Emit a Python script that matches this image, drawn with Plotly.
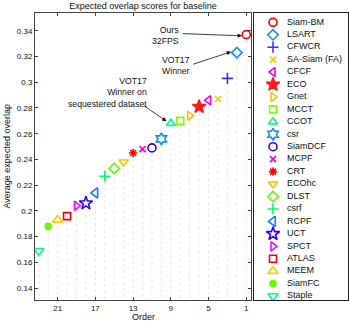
import plotly.graph_objects as go

# trackers in ranking order (order 1 = best)
trackers = ['Siam-BM', 'LSART', 'CFWCR', 'SA-Siam (FA)', 'CFCF', 'ECO', 'Gnet', 'MCCT',
            'CCOT', 'csr', 'SiamDCF', 'MCPF', 'CRT', 'ECOhc', 'DLST', 'csrf', 'RCPF',
            'UCT', 'SPCT', 'ATLAS', 'MEEM', 'SiamFC', 'Staple']
order = list(range(1, 24))
eao = [0.337, 0.323, 0.303, 0.287, 0.286, 0.281, 0.274, 0.270, 0.268, 0.256, 0.249,
       0.248, 0.245, 0.238, 0.233, 0.227, 0.214, 0.206, 0.204, 0.196, 0.193, 0.188, 0.169]

symbols = ['circle-open', 'diamond-open', 'cross-thin-open', 'x-thin-open', 'triangle-left-open',
           'star', 'triangle-right-open', 'square-open', 'triangle-up-open', 'hexagram-open',
           'circle-open', 'x-thin-open', 'asterisk-open', 'triangle-down-open', 'diamond-open',
           'cross-thin-open', 'triangle-left-open', 'star-open', 'triangle-right-open',
           'square-open', 'triangle-up-open', 'circle', 'triangle-down-open']
colors = ['#ff0000', '#1a8cff', '#4d26ff', '#ffcc00', '#ff00e6', '#ff1a1a', '#ffbf00', '#80ff00',
          '#00ff80', '#1a8cff', '#3300ff', '#ff00cc', '#ff0000', '#ffbf00', '#59ff00',
          '#00ff66', '#0f80ff', '#3300ff', '#ff00ff', '#ff0000', '#ffcc00', '#66ff00', '#00ff88']
sizes = [8, 8, 8, 6, 8, 10, 8, 7, 8, 9, 8, 6, 7, 8, 8, 8, 9, 10, 8, 7, 9, 6, 9]

x_ticks = [1, 5, 9, 13, 17, 21]
y_ticks = [0.14, 0.16, 0.18, 0.2, 0.22, 0.24, 0.26, 0.28, 0.3, 0.32, 0.34]
x_range = [23.4, 0.5]
y_range = [0.1308, 0.3538]

FONT = 'Liberation Sans, Arial, Helvetica, sans-serif'
W, H = 349, 322
L, R, T, B = 35, 251, 13, 300   # main axes box in pixels
LR = 348                         # right edge of legend box
PW = LR - L                      # plotting width (paper)


def px(p):
    return (p - L) / PW


fig = go.Figure()

# dotted drop lines from each point to the bottom
dx, dy = [], []
for o, v in zip(order, eao):
    dx += [o, o, None]
    dy += [v, y_range[0], None]
fig.add_trace(go.Scatter(x=dx, y=dy, mode='lines', hoverinfo='skip',
                         line=dict(color='#e6e6e6', width=1, dash='dot'), showlegend=False))

for i, name in enumerate(trackers):
    fig.add_trace(go.Scatter(
        x=[order[i]], y=[eao[i]], mode='markers', name=name, showlegend=False,
        marker=dict(symbol=symbols[i], size=sizes[i], color=colors[i],
                    line=dict(color=colors[i], width=1.6))))

# hand made legend on a second axes
for i, name in enumerate(trackers):
    fig.add_trace(go.Scatter(
        x=[19], y=[i], xaxis='x2', yaxis='y2', mode='markers', showlegend=False,
        marker=dict(symbol=symbols[i], size=sizes[i], color=colors[i],
                    line=dict(color=colors[i], width=1.6))))
fig.add_trace(go.Scatter(
    x=[33] * len(trackers), y=list(range(len(trackers))), xaxis='x2', yaxis='y2',
    mode='text', text=trackers, textposition='middle right', showlegend=False,
    cliponaxis=False, textfont=dict(family=FONT, size=9, color='#111')))

axcol = '#444'
fig.update_layout(
    width=W, height=H,
    margin=dict(l=L, r=W - LR, t=T, b=H - B),
    plot_bgcolor='white', paper_bgcolor='white',
    font=dict(family=FONT, size=8, color='#111'),
    title=dict(text='Expected overlap scores for baseline', x=px((L + R) / 2), xref='paper',
               xanchor='center', y=1 - 5.5 / H, yanchor='middle', font=dict(size=9)),
    xaxis=dict(range=x_range, tickvals=x_ticks, ticks='inside', ticklen=3, mirror='ticks',
               showline=True, linecolor=axcol, linewidth=1, tickcolor=axcol,
               showgrid=False, zeroline=False, domain=[0, px(R)]),
    yaxis=dict(range=y_range, tickvals=y_ticks, ticks='inside', ticklen=3, mirror='ticks',
               showline=True, linecolor=axcol, linewidth=1, tickcolor=axcol,
               showgrid=False, zeroline=False),
    xaxis2=dict(domain=[px(254), 1], range=[0, 94], anchor='y2',
                showline=True, mirror=True, linecolor='#222', linewidth=1,
                showticklabels=False, ticks='', showgrid=False, zeroline=False),
    yaxis2=dict(domain=[0, 1], range=[22.32, -0.75], anchor='x2',
                showline=True, mirror=True, linecolor='#222', linewidth=1,
                showticklabels=False, ticks='', showgrid=False, zeroline=False),
    showlegend=False,
)

ann_font = dict(family=FONT, size=8.7, color='#111')
annotations = [
    # axis titles
    dict(text='Order', xref='paper', yref='paper', x=px((L + R) / 2), y=(B - 317) / (B - T),
         showarrow=False, font=dict(size=9), yanchor='middle'),
    dict(text='Average expected overlap', xref='paper', yref='paper',
         x=px(6), y=0.5, textangle=-90, showarrow=False,
         font=dict(size=9), xanchor='center'),
    # callout texts
    dict(text='Ours<br>32FPS', x=7.97, y=0.3361, xanchor='right', align='right',
         showarrow=False, font=ann_font),
    dict(text='VOT17<br>Winner', x=8.4, y=0.3128, xanchor='center', align='center',
         showarrow=False, font=ann_font),
    dict(text='VOT17<br>Winner on<br>sequestered dataset', x=11.3, y=0.2922,
         xanchor='right', align='right', showarrow=False, font=ann_font),
    # arrows
    dict(text='', x=1.45, y=0.3361, ax=7.87, ay=0.3378, axref='x', ayref='y',
         showarrow=True, arrowhead=2, arrowsize=1.1, arrowwidth=0.8, arrowcolor='#111'),
    dict(text='', x=2.6, y=0.3237, ax=6.8, ay=0.3136, axref='x', ayref='y',
         showarrow=True, arrowhead=2, arrowsize=1.1, arrowwidth=0.8, arrowcolor='#111'),
    dict(text='', x=9.45, y=0.2697, ax=11.99, ay=0.2824, axref='x', ayref='y',
         showarrow=True, arrowhead=2, arrowsize=1.1, arrowwidth=0.8, arrowcolor='#111'),
]
fig.update_layout(annotations=annotations)

# remove the default page margin so the figure sits at the window origin
fig.write_html('out.html', config={'displayModeBar': False},
               post_script="document.body.style.margin='0';")
